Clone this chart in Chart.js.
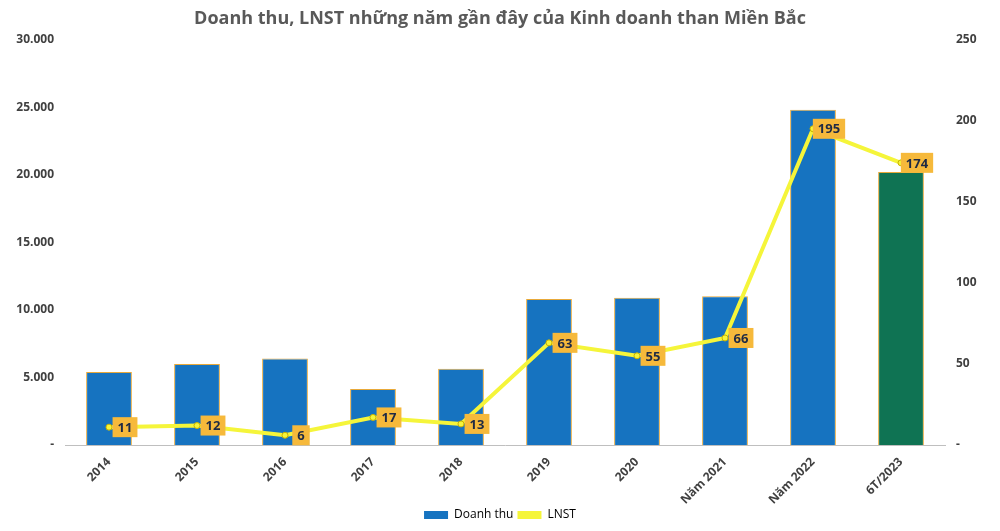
<!DOCTYPE html>
<html>
<head>
<meta charset="utf-8">
<script src="https://cdn.jsdelivr.net/npm/chart.js@4"></script>
<style>
  body { margin: 0; background: #fff; }
  #wrap { width: 1000px; height: 531px; }
</style>
</head>
<body>
<div id="wrap"><canvas id="c"></canvas></div>
<script>
// ── Data ──
const years = ["2014", "2015", "2016", "2017", "2018", "2019", "2020", "Năm 2021", "Năm 2022", "6T/2023"];
const revenue = [5400, 6000, 6400, 4150, 5650, 10800, 10900, 11000, 24800, 20200];
const profit = [11, 12, 6, 17, 13, 63, 55, 66, 195, 174];
const barColors = ["#1673c0", "#1673c0", "#1673c0", "#1673c0", "#1673c0", "#1673c0", "#1673c0", "#1673c0", "#1673c0", "#0f7353"];

const fmt = v => v === 0 ? "-" : v.toLocaleString("de-DE");

// ── Value labels for the profit line ──
const boxLabels = {
  id: "boxLabels",
  afterDatasetsDraw(chart) {
    const ctx = chart.ctx;
    const meta = chart.getDatasetMeta(1);
    ctx.save();
    ctx.font = "bold 13px 'Open Sans', sans-serif";
    ctx.textAlign = "center";
    ctx.textBaseline = "middle";
    meta.data.forEach((pt, i) => {
      const txt = String(profit[i]);
      const w = ctx.measureText(txt).width + 10;
      const h = 20;
      const x = pt.x + 16, y = pt.y;
      ctx.fillStyle = "#f6b93b";
      ctx.fillRect(x - w / 2, y - h / 2, w, h);
      ctx.fillStyle = "#1f2a44";
      ctx.fillText(txt, x, y + 1);
    });
    ctx.restore();
  }
};

new Chart(document.getElementById("c"), {
  data: {
    labels: years,
    datasets: [
      {
        type: "bar",
        label: "Doanh thu",
        data: revenue,
        backgroundColor: barColors,
        borderColor: "#e8a93a",
        borderWidth: 1,
        barPercentage: 0.52,
        categoryPercentage: 1,
        yAxisID: "y",
        order: 2
      },
      {
        type: "line",
        label: "LNST",
        data: profit,
        borderColor: "#f5f53a",
        backgroundColor: "#f5f53a",
        borderWidth: 4,
        pointRadius: 3,
        pointBackgroundColor: "#f5f53a",
        pointBorderColor: "#c8b000",
        pointBorderWidth: 1,
        tension: 0,
        yAxisID: "y1",
        order: 1
      }
    ]
  },
  options: {
    responsive: true,
    maintainAspectRatio: false,
    animation: false,
    layout: { padding: { top: 8, bottom: 0 } },
    plugins: {
      title: {
        display: true,
        text: "Doanh thu, LNST những năm gần đây của Kinh doanh than Miền Bắc",
        color: "#595959",
        font: { family: "'Open Sans', sans-serif", size: 18, weight: "bold" },
        padding: { top: 0, bottom: 10 }
      },
      legend: {
        position: "bottom",
        labels: {
          color: "#333",
          font: { family: "'Open Sans', sans-serif", size: 12 },
          boxWidth: 24,
          boxHeight: 8,
          padding: 4,
          generateLabels: () => [
            { text: "Doanh thu", fillStyle: "#1673c0", strokeStyle: "#1673c0", lineWidth: 0 },
            { text: "LNST", fillStyle: "#f5f53a", strokeStyle: "#f5f53a", lineWidth: 0 }
          ]
        }
      },
      tooltip: { enabled: false }
    },
    scales: {
      x: {
        grid: { display: false },
        border: { color: "#bfbfbf" },
        afterFit: s => { s.height = 60; },
        ticks: {
          color: "#404040",
          font: { family: "'Open Sans', sans-serif", size: 12, weight: "bold" },
          maxRotation: 45,
          minRotation: 45,
          padding: 2
        }
      },
      y: {
        position: "left",
        min: 0, max: 30000,
        grid: { display: false },
        border: { display: false },
        afterFit: s => { s.width = 65; },
        ticks: {
          stepSize: 5000,
          color: "#404040",
          font: { family: "'Open Sans', sans-serif", size: 12, weight: "bold" },
          callback: v => fmt(v)
        }
      },
      y1: {
        position: "right",
        min: 0, max: 250,
        grid: { display: false },
        border: { display: false },
        afterFit: s => { s.width = 55; },
        ticks: {
          stepSize: 50,
          color: "#404040",
          font: { family: "'Open Sans', sans-serif", size: 12, weight: "bold" },
          callback: v => fmt(v)
        }
      }
    }
  },
  plugins: [boxLabels]
});
</script>
</body>
</html>
